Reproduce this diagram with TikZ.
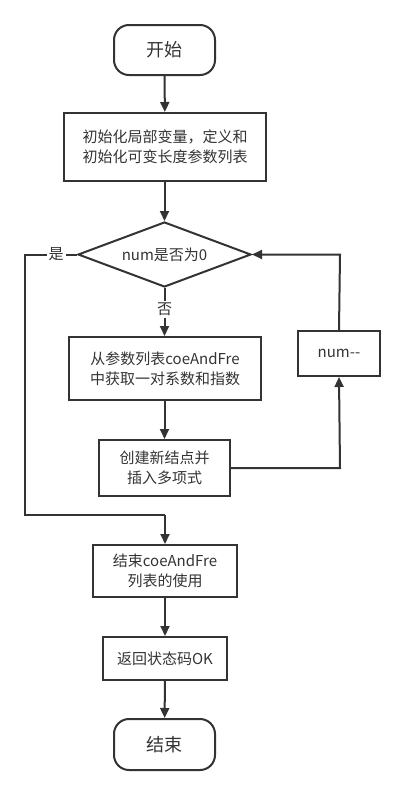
\documentclass[tikz,border=0pt]{standalone}
\usepackage{fontspec}
\setmainfont{Noto Sans CJK SC}
\usetikzlibrary{arrows.meta,shapes.geometric}
\definecolor{ink}{HTML}{333333}
\begin{document}
\begin{tikzpicture}[x=1pt,y=-1pt,
  every node/.style={text=ink,font=\fontsize{15}{20}\selectfont,align=center,inner sep=0pt},
  proc/.style={draw=ink,line width=2pt,rectangle},
  term/.style={draw=ink,line width=2pt,rectangle,rounded corners=15pt,font=\fontsize{18}{20}\selectfont},
  conn/.style={draw=ink,line width=2pt,-{Triangle[length=10pt,width=9pt]}},
  plain/.style={draw=ink,line width=2pt}]
\useasboundingbox (0,0) rectangle (405,795);
\node[term,minimum width=101pt,minimum height=50pt] (start) at (164.5,50) {开始};
\node[proc,minimum width=202pt,minimum height=68pt] (init) at (165,147) {初始化局部变量，定义和\\初始化可变长度参数列表};
\node[draw=ink,line width=2pt,shape=diamond,minimum width=173pt,minimum height=65pt,inner sep=0pt] (dec) at (164.5,254.5) {};
\node (dectext) at (164.5,254.5) {num是否为0};
\node[proc,minimum width=192pt,minimum height=63pt] (get) at (165,368.5) {从参数列表coeAndFre\\中获取一对系数和指数};
\node[proc,minimum width=82pt,minimum height=45pt] (dec2) at (339,353.5) {num-{}-};
\node[proc,minimum width=131pt,minimum height=56pt] (create) at (164.5,468) {创建新结点并\\插入多项式};
\node[proc,minimum width=144pt,minimum height=52pt] (endlist) at (165,571) {结束coeAndFre\\列表的使用};
\node[proc,minimum width=124pt,minimum height=43pt] (ret) at (165,658.5) {返回状态码OK};
\node[term,minimum width=101pt,minimum height=51pt] (stop) at (164.5,744.5) {结束};
\coordinate (lc1) at (25,254.5);
\coordinate (lc2) at (25,515);
\coordinate (lc3) at (165,515);
\coordinate (rc1) at (340,468);
\coordinate (rc2) at (340,254.5);
\draw[conn] (start) -- (init);
\draw[conn] (init.south -| dec.north) -- (dec.north);
\draw[conn] (dec.south) -- node[fill=white,inner sep=2pt,pos=0.45] {否} (get.north -| dec.south);
\draw[conn] (get.south -| create.north) -- (create.north);
\draw[conn] (create.east) -- (rc1) -- (dec2.south);
\draw[conn] (dec2.north) -- (rc2) -- (dec.east);
\draw[plain] (dec.west) -- node[fill=white,inner sep=2pt,pos=0.4] {是} (lc1) -- (lc2) -- (lc3);
\draw[conn] (lc3) -- (endlist.north);
\draw[conn] (endlist) -- (ret);
\draw[conn] (ret) -- (stop);
\end{tikzpicture}
\end{document}
